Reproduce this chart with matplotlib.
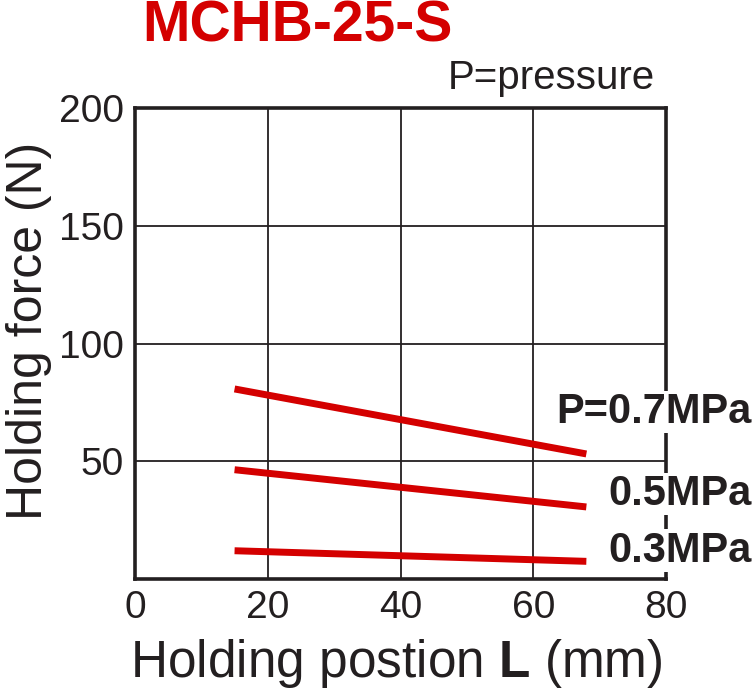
import matplotlib
matplotlib.use("Agg")
import matplotlib.pyplot as plt
import matplotlib.transforms as mtransforms

plt.rcParams['font.family'] = ['Liberation Sans', 'DejaVu Sans']
plt.rcParams['mathtext.fontset'] = 'custom'
plt.rcParams['mathtext.rm'] = 'Liberation Sans'
plt.rcParams['mathtext.bf'] = 'Liberation Sans:bold'

positions = [15, 68]
force_07 = [80.7, 53.1]
force_05 = [46.4, 30.6]
force_03 = [12.0, 7.5]
series_labels = ["P=0.7MPa", "0.5MPa", "0.3MPa"]
label_y = [71, 36, 12]
x_ticks = [0, 20, 40, 60, 80]
y_ticks = [50, 100, 150, 200]

ink = '#231f20'
red = '#d40000'

fig = plt.figure(figsize=(7.54, 6.93), dpi=100)
ax = fig.add_axes([135/754, 1-579/693, (666-135)/754, (579-108)/693])
ax.set_xlim(0, 80)
ax.set_ylim(0, 200)
ax.set_xticks(x_ticks)
ax.set_yticks(y_ticks)
ax.grid(True, color=ink, linewidth=1.3)
ax.set_axisbelow(True)
for s in ax.spines.values():
    s.set_color(ink)
    s.set_linewidth(2.6)
ax.tick_params(length=0, labelsize=28, colors=ink, pad=8)

for ys in (force_07, force_05, force_03):
    ax.plot(positions, ys, color=red, linewidth=5, solid_capstyle='butt', zorder=3)

blend = mtransforms.blended_transform_factory(fig.transFigure, ax.transData)
for lab, y in zip(series_labels, label_y):
    ax.text(752/754, y, lab, transform=blend,
            ha='right', va='center', fontsize=30, fontweight='bold', color=ink, zorder=5,
            clip_on=False, bbox=dict(facecolor='white', edgecolor='none', pad=1))

fig.text(297/754, 1-26/693, "MCHB-25-S", ha='center', va='center', fontsize=41,
         fontweight='bold', color=red)
fig.text(551/754, 1-78/693, "P=pressure", ha='center', va='center', fontsize=29, color=ink)

fig.text(29/754, 1-331/693, "Holding force (N)", rotation=90, ha='center', va='center',
         fontsize=36, color=ink)
fig.text(396/754, 1-663/693, "Holding postion $\\mathbf{L}$ (mm)", ha='center', va='center',
         fontsize=37, color=ink)

fig.savefig("out.png", dpi=100)
